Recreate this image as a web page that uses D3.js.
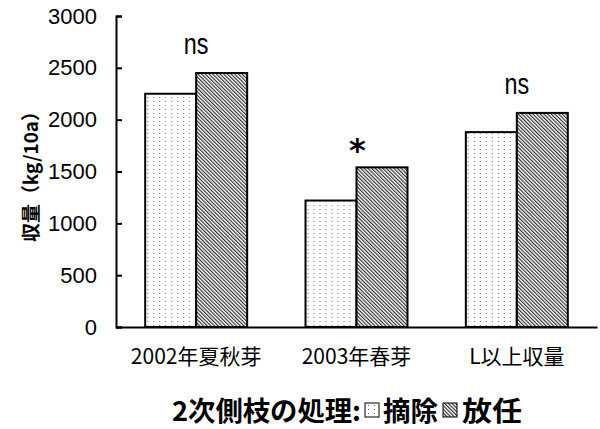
<!DOCTYPE html>
<html>
<head>
<meta charset="utf-8">
<script src="https://cdn.jsdelivr.net/npm/d3@7"></script>
<style>
  html, body { margin: 0; padding: 0; background: #fff; }
  svg { display: block; }
</style>
</head>
<body>
<svg id="chart" width="600" height="429"></svg>
<script>
// 収量データ (kg/10a)
const categories = ["2002年夏秋芽", "2003年春芽", "L以上収量"];
const seriesNames = ["摘除", "放任"];
const removed = [2250, 1220, 1880];   // 摘除
const leftFree = [2450, 1540, 2065];  // 放任
const significance = ["ns", "*", "ns"];
const yTicks = [0, 500, 1000, 1500, 2000, 2500, 3000];
const yLabel = "収量（kg/10a）";
const legendTitle = "2次側枝の処理:";

const rows = categories.map((c, i) => ({ cat: c, values: [removed[i], leftFree[i]], sig: significance[i] }));

const JP = '"Noto Sans CJK JP", sans-serif';
const LATIN = '"Liberation Sans", Arial, sans-serif';

const svg = d3.select("#chart");
const axisX0 = 116, axisX1 = 597, axisY0 = 327, axisY1 = 16;

// 塗りパターン
const defs = svg.append("defs");
const dots = defs.append("pattern")
  .attr("id", "dots").attr("patternUnits", "userSpaceOnUse")
  .attr("width", 6).attr("height", 4);
dots.append("rect").attr("width", 6).attr("height", 4).attr("fill", "#fff");
dots.append("rect").attr("x", 2).attr("y", 1).attr("width", 1).attr("height", 1).attr("fill", "#777");

const hatch = defs.append("pattern")
  .attr("id", "hatch").attr("patternUnits", "userSpaceOnUse")
  .attr("width", 2.6).attr("height", 10)
  .attr("patternTransform", "rotate(-45)");
hatch.append("rect").attr("width", 2.6).attr("height", 10).attr("fill", "#fff");
hatch.append("line").attr("x1", 0.6).attr("x2", 0.6).attr("y1", 0).attr("y2", 10)
  .attr("stroke", "#222").attr("stroke-width", 1.1);

const fills = ["url(#dots)", "url(#hatch)"];

const x0 = d3.scaleBand().domain(categories).range([axisX0, axisX1])
  .paddingInner(0.364).paddingOuter(0.182);
const x1 = d3.scaleBand().domain([0, 1]).range([0, x0.bandwidth()]);
const y = d3.scaleLinear().domain([0, 3000]).range([axisY0, axisY1]);

// 棒
const groups = svg.append("g").selectAll("g").data(rows).join("g")
  .attr("transform", d => `translate(${x0(d.cat)},0)`);
groups.selectAll("rect").data(d => d.values).join("rect")
  .attr("x", (v, i) => x1(i))
  .attr("y", v => y(v))
  .attr("width", x1.bandwidth())
  .attr("height", v => y(0) - y(v))
  .attr("fill", (v, i) => fills[i])
  .attr("stroke", "#000").attr("stroke-width", 2);

// 有意差表示
groups.filter(d => d.sig !== "*").append("text")
  .attr("transform", d => `translate(${x0.bandwidth() / 2},${y(d3.max(d.values)) - 19}) scale(0.78,1)`)
  .attr("text-anchor", "middle")
  .style("font-family", LATIN).style("font-size", "30px")
  .text(d => d.sig);
groups.filter(d => d.sig === "*").append("text")
  .attr("x", x0.bandwidth() / 2 + 1)
  .attr("y", d => y(d3.max(d.values)) - 6)
  .attr("text-anchor", "middle")
  .style("font-family", '"DejaVu Sans", sans-serif').style("font-weight", "bold").style("font-size", "32px")
  .text(d => d.sig);

// Y軸
const yAxis = d3.axisLeft(y).tickValues(yTicks).tickSize(-6).tickPadding(19).tickFormat(d3.format("d"));
const gy = svg.append("g").attr("transform", `translate(${axisX0},0)`).call(yAxis);
gy.select(".domain").attr("stroke", "#000").attr("stroke-width", 2);
gy.selectAll(".tick line").attr("stroke", "#000").attr("stroke-width", 2);
gy.selectAll(".tick text").style("font-size", "22px").style("font-family", LATIN).attr("fill", "#000");

// X軸
const xAxis = d3.axisBottom(x0).tickSize(0).tickPadding(22);
const gx = svg.append("g").attr("transform", `translate(0,${axisY0})`).call(xAxis);
gx.select(".domain").attr("stroke", "#000").attr("stroke-width", 2);
gx.selectAll(".tick text").style("font-size", "21px").style("font-family", JP).attr("fill", "#000");

// Y軸ラベル
svg.append("text")
  .attr("transform", "translate(29,172) rotate(-90)")
  .attr("text-anchor", "middle")
  .attr("dominant-baseline", "central")
  .style("font-family", JP).style("font-size", "19px").style("font-weight", "bold")
  .attr("textLength", 140).attr("lengthAdjust", "spacingAndGlyphs")
  .text(yLabel);

// 凡例
const legend = svg.append("g").style("font-family", JP).style("font-weight", "bold").style("font-size", "27px");
legend.append("text").attr("x", 172).attr("y", 421)
  .attr("textLength", 189).attr("lengthAdjust", "spacingAndGlyphs").text(legendTitle);
const legendItems = [
  { x: 365, tx: 383, len: 55, label: seriesNames[0], fill: fills[0] },
  { x: 443, tx: 462, len: 60, label: seriesNames[1], fill: fills[1] }
];
legendItems.forEach(it => {
  legend.append("rect").attr("x", it.x).attr("y", 403).attr("width", 14).attr("height", 14)
    .attr("fill", it.fill).attr("stroke", "#000").attr("stroke-width", 1);
  legend.append("text").attr("x", it.tx).attr("y", 421)
    .attr("textLength", it.len).attr("lengthAdjust", "spacingAndGlyphs").text(it.label);
});
</script>
</body>
</html>
